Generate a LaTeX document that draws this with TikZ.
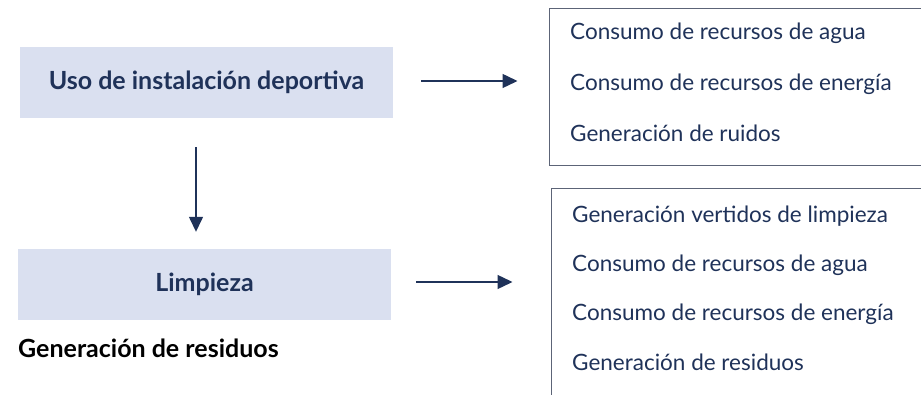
\documentclass[tikz,border=0pt]{standalone}
\usepackage{fontspec}
\setmainfont{Lato}
\usetikzlibrary{arrows.meta}
\definecolor{navy}{HTML}{1F3259}
\definecolor{boxfill}{HTML}{DAE0F0}
\definecolor{frame}{HTML}{5C6477}
\tikzset{
  actbox/.style={fill=boxfill, draw=none, inner sep=0pt, text=navy, font=\fontsize{25}{30}\selectfont\bfseries},
  listbox/.style={draw=frame, line width=1pt, inner sep=0pt},
  item/.style={anchor=west, inner sep=0pt, text=navy, font=\fontsize{22.5}{27}\selectfont},
  arr/.style={draw=navy, line width=1.4pt, -{Triangle[length=15pt,width=14pt]}},
}
\begin{document}
\begin{tikzpicture}[x=1pt,y=-1pt]
\useasboundingbox (0,0) rectangle (921,395);
\begin{scope}
\clip (0,0) rectangle (921,395);
\node[actbox, minimum width=373pt, minimum height=71pt] (uso) at (206.5,82.5) {Uso de instalación deportiva};
\node[actbox, minimum width=373pt, minimum height=71pt] (limp) at (204.5,284.5) {Limpieza};
\node[anchor=west, inner sep=0pt, font=\fontsize{25}{30}\selectfont\bfseries] (gen) at (18,348) {Generación de residuos};
\node[listbox, minimum width=411pt, minimum height=157pt] (r1) at (754.5,87.5) {};
\node[listbox, minimum width=411pt, minimum height=241pt] (r2) at (756.5,309.5) {};
\node[item] (a1) at (570,33) {Consumo de recursos de agua};
\node[item] (a2) at (570,84) {Consumo de recursos de energía};
\node[item] (a3) at (570,133) {Generación de ruidos};
\node[item] (b1) at (572,216) {Generación vertidos de limpieza};
\node[item] (b2) at (572,265) {Consumo de recursos de agua};
\node[item] (b3) at (572,314) {Consumo de recursos de energía};
\node[item] (b4) at (572,362) {Generación de residuos};
\draw[arr, shorten <=28pt, shorten >=31pt] ([yshift=1.5pt]uso.east) -- ([yshift=1.5pt]uso.east -| r1.west);
\draw[arr, shorten <=25pt, shorten >=38pt] ([yshift=2.5pt]limp.east) -- ([yshift=2.5pt]limp.east -| r2.west);
\draw[arr, shorten <=29pt, shorten >=17pt] ([xshift=-10.5pt]uso.south) -- ([xshift=-10.5pt]uso.south |- limp.north);
\end{scope}
\end{tikzpicture}
\end{document}
